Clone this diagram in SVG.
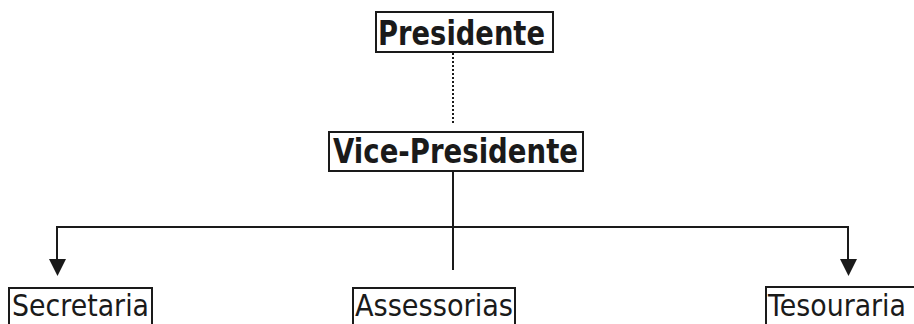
<svg xmlns="http://www.w3.org/2000/svg" width="914" height="324" viewBox="0 0 914 324">
<defs>
<style>
.box{fill:#fff;stroke:#1a1a1a;stroke-width:2}
.t{font-family:"DejaVu Sans","Liberation Sans",sans-serif;fill:#1a1a1a}
.b{font-weight:bold;font-size:33px}
.r{font-size:31px}
.ln{stroke:#1a1a1a;stroke-width:2;fill:none}
</style>
</defs>
<rect width="914" height="324" fill="#fff"/>
<g id="connectors">
<line class="ln" x1="453" y1="53" x2="453" y2="123" stroke-dasharray="2 2"/>
<line class="ln" x1="453" y1="172" x2="453" y2="270"/>
<polyline class="ln" points="57,259 57,227 848,227 848,259"/>
<polygon points="49,259 66,259 57.5,276" fill="#1a1a1a"/>
<polygon points="840,259 857,259 848.5,276" fill="#1a1a1a"/>
</g>
<g id="presidente">
<rect class="box" x="376" y="12" width="177" height="40"/>
<text class="t b" x="378" y="45" textLength="167" lengthAdjust="spacingAndGlyphs">Presidente</text>
</g>
<g id="vice-presidente">
<rect class="box" x="329" y="132" width="254" height="39"/>
<text class="t b" x="333" y="163" textLength="245" lengthAdjust="spacingAndGlyphs">Vice-Presidente</text>
</g>
<g id="secretaria">
<rect class="box" x="9" y="288" width="143" height="45"/>
<text class="t r" x="12" y="316" textLength="137" lengthAdjust="spacingAndGlyphs">Secretaria</text>
</g>
<g id="assessorias">
<rect class="box" x="353" y="288" width="162" height="45"/>
<text class="t r" x="355" y="316" textLength="158" lengthAdjust="spacingAndGlyphs">Assessorias</text>
</g>
<g id="tesouraria">
<rect class="box" x="766" y="287" width="160" height="46"/>
<text class="t" font-size="27" transform="translate(768,316) scale(1,1.148)" x="0" y="0" textLength="138" lengthAdjust="spacingAndGlyphs">Tesouraria</text>
</g>
</svg>
